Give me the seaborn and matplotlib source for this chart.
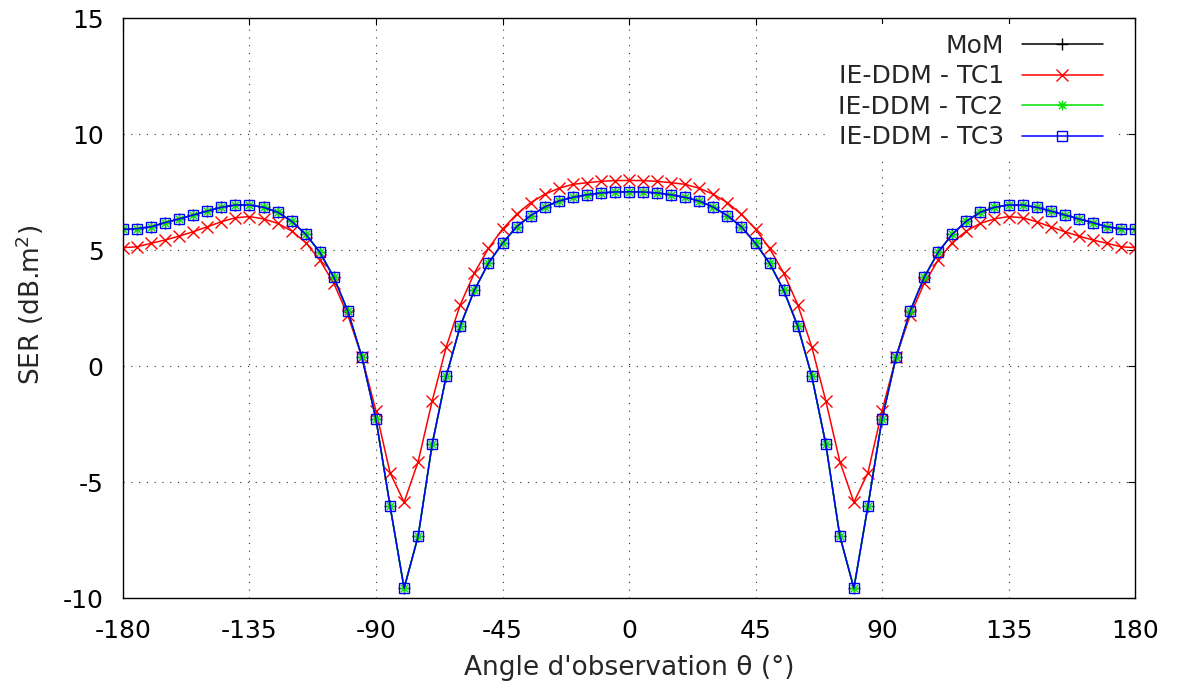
import numpy as np
import pandas as pd
import matplotlib
matplotlib.use('Agg')
import matplotlib.pyplot as plt
import seaborn as sns
from matplotlib.path import Path

# ---------------- data ----------------
angles = list(range(-180, 181, 5))

mom = [5.89, 5.92, 6.00, 6.18, 6.34, 6.51, 6.68, 6.84, 6.94, 6.94, 6.84, 6.63, 6.24,
       5.68, 4.91, 3.82, 2.36, 0.38, -2.30, -6.03, -9.58, -7.33, -3.36, -0.43, 1.73,
       3.27, 4.43, 5.29, 6.00, 6.48, 6.85, 7.11, 7.27, 7.38, 7.46, 7.50, 7.51,
       7.50, 7.46, 7.38, 7.27, 7.11, 6.85, 6.48, 6.00, 5.29, 4.43, 3.27, 1.73,
       -0.43, -3.36, -7.33, -9.58, -6.03, -2.30, 0.38, 2.36, 3.82, 4.91, 5.68,
       6.24, 6.63, 6.84, 6.94, 6.94, 6.84, 6.68, 6.51, 6.34, 6.18, 6.00, 5.92, 5.89]

tc1 = [5.10, 5.14, 5.29, 5.43, 5.60, 5.79, 6.00, 6.22, 6.39, 6.44, 6.34, 6.15, 5.82,
       5.32, 4.57, 3.56, 2.18, 0.38, -1.94, -4.60, -5.87, -4.12, -1.50, 0.83, 2.65,
       4.01, 5.07, 5.90, 6.54, 7.04, 7.40, 7.66, 7.83, 7.90, 7.96, 7.99, 8.00,
       7.99, 7.96, 7.90, 7.83, 7.66, 7.40, 7.04, 6.54, 5.90, 5.07, 4.01, 2.65,
       0.83, -1.50, -4.12, -5.87, -4.60, -1.94, 0.38, 2.18, 3.56, 4.57, 5.32,
       5.82, 6.15, 6.34, 6.44, 6.39, 6.22, 6.00, 5.79, 5.60, 5.43, 5.29, 5.14, 5.10]

tc2 = [5.89, 5.92, 6.00, 6.18, 6.34, 6.51, 6.68, 6.84, 6.94, 6.94, 6.84, 6.63, 6.24,
       5.68, 4.91, 3.82, 2.36, 0.38, -2.30, -6.03, -9.58, -7.33, -3.36, -0.43, 1.73,
       3.27, 4.43, 5.29, 6.00, 6.48, 6.85, 7.11, 7.27, 7.38, 7.46, 7.50, 7.51,
       7.50, 7.46, 7.38, 7.27, 7.11, 6.85, 6.48, 6.00, 5.29, 4.43, 3.27, 1.73,
       -0.43, -3.36, -7.33, -9.58, -6.03, -2.30, 0.38, 2.36, 3.82, 4.91, 5.68,
       6.24, 6.63, 6.84, 6.94, 6.94, 6.84, 6.68, 6.51, 6.34, 6.18, 6.00, 5.92, 5.89]

tc3 = [5.89, 5.92, 6.00, 6.18, 6.34, 6.51, 6.68, 6.84, 6.94, 6.94, 6.84, 6.63, 6.24,
       5.68, 4.91, 3.82, 2.36, 0.38, -2.30, -6.03, -9.58, -7.33, -3.36, -0.43, 1.73,
       3.27, 4.43, 5.29, 6.00, 6.48, 6.85, 7.11, 7.27, 7.38, 7.46, 7.50, 7.51,
       7.50, 7.46, 7.38, 7.27, 7.11, 6.85, 6.48, 6.00, 5.29, 4.43, 3.27, 1.73,
       -0.43, -3.36, -7.33, -9.58, -6.03, -2.30, 0.38, 2.36, 3.82, 4.91, 5.68,
       6.24, 6.63, 6.84, 6.94, 6.94, 6.84, 6.68, 6.51, 6.34, 6.18, 6.00, 5.92, 5.89]

series_names = ['MoM', 'IE-DDM - TC1', 'IE-DDM - TC2', 'IE-DDM - TC3']
x_ticks = [-180, -135, -90, -45, 0, 45, 90, 135, 180]
y_ticks = [-10, -5, 0, 5, 10, 15]
x_label = "Angle d'observation θ (°)"
y_label = "SER (dB.m$^2$)"

df = pd.DataFrame({'angle': angles, series_names[0]: mom, series_names[1]: tc1,
                   series_names[2]: tc2, series_names[3]: tc3})

# ---------------- style ----------------
sns.set_style('white')
plt.rcParams['font.family'] = ['DejaVu Sans']
plt.rcParams['mathtext.fontset'] = 'dejavusans'

fig = plt.figure(figsize=(11.81, 6.89), dpi=100)
ax = fig.add_axes([123 / 1181, 1 - 598 / 689, 1012 / 1181, 580 / 689])

star = Path([(-1, 0), (1, 0), (0, -1), (0, 1),
             (-0.75, -0.75), (0.75, 0.75), (-0.75, 0.75), (0.75, -0.75)],
            [Path.MOVETO, Path.LINETO] * 4)

styles = {
    'MoM': dict(color='black', marker='+', markersize=8),
    'IE-DDM - TC1': dict(color='#ff0000', marker='x', markersize=9),
    'IE-DDM - TC2': dict(color='#00e000', marker=star, markersize=7),
    'IE-DDM - TC3': dict(color='#0000ff', marker='s', markersize=7),
}

for name in series_names:
    st = styles[name]
    sns.lineplot(data=df, x='angle', y=name, ax=ax, color=st['color'],
                 marker=st['marker'], markersize=st['markersize'],
                 markerfacecolor='none', markeredgecolor=st['color'],
                 markeredgewidth=1.0, linewidth=1.1, label=name, sort=False)

ax.set_xlim(-180, 180)
ax.set_ylim(-10, 15)
ax.set_xticks(x_ticks)
ax.set_yticks(y_ticks)
ax.set_xticklabels([str(v) for v in x_ticks])
ax.set_yticklabels([str(v) for v in y_ticks])

ax.grid(True, color='0.2', linestyle=(0, (1, 6)), linewidth=0.8)
ax.set_axisbelow(True)
for sp in ax.spines.values():
    sp.set_visible(True)
    sp.set_color('black')
    sp.set_linewidth(1.0)

ax.tick_params(axis='both', direction='in', length=5, width=0.8, top=True, right=True,
               labelsize=18, colors='black')
ax.tick_params(axis='x', pad=15)
ax.tick_params(axis='y', pad=14)

ax.set_xlabel(x_label, fontsize=19)
ax.set_ylabel(y_label, fontsize=19)
ax.xaxis.label.set_va('center')
ax.yaxis.label.set_va('center')
ax.xaxis.set_label_coords(0.5, -0.121)
ax.yaxis.set_label_coords(-0.092, 0.505)

leg = ax.legend(loc='upper right', bbox_to_anchor=(0.978, 0.99), borderaxespad=0,
                markerfirst=False, numpoints=1, handlelength=3.24, handletextpad=0.72,
                labelspacing=0.26, fontsize=18, frameon=True, fancybox=False,
                framealpha=1, facecolor='white', edgecolor='none', borderpad=0.4)

fig.savefig('out.png', dpi=100)
